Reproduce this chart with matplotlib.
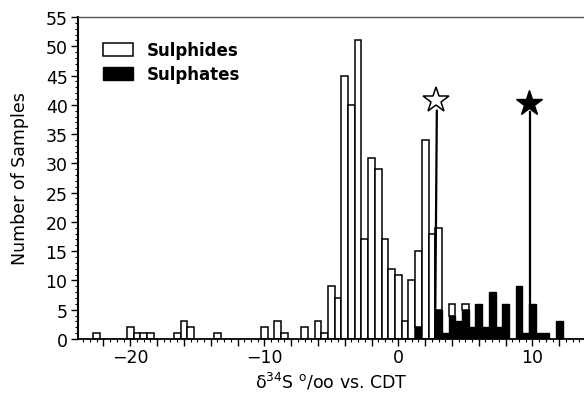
import matplotlib
matplotlib.use("Agg")
import matplotlib.pyplot as plt
from matplotlib.patches import Patch
from matplotlib.ticker import MultipleLocator, FuncFormatter

# ---- data (bin centres in per mil, bin width 0.5) ----
sulphide_bins = [-22.5, -20, -19.5, -19, -18.5, -16.5, -16, -15.5, -13.5,
                 -10, -9, -8.5, -7, -6, -5.5, -5, -4.5, -4, -3.5, -3, -2.5,
                 -2, -1.5, -1, -0.5, 0, 0.5, 1, 1.5, 2, 2.5, 3, 4, 5]
sulphide_counts = [1, 2, 1, 1, 1, 1, 3, 2, 1,
                   2, 3, 1, 2, 3, 1, 9, 7, 45, 40, 51, 17,
                   31, 29, 17, 12, 11, 3, 10, 13, 34, 18, 14, 2, 1]

sulphate_bins = [1.5, 3, 3.5, 4, 4.5, 5, 5.5, 6, 6.5, 7, 7.5, 8, 9, 9.5,
                 10, 10.5, 11, 12]
sulphate_counts = [2, 5, 1, 4, 3, 5, 2, 6, 2, 8, 2, 6, 9, 1, 6, 1, 1, 3]

bin_width = 0.5

# mean markers (open star = sulphides, filled star = sulphates)
sulphide_star = (2.8, 40.8)
sulphide_line_x = (2.87, 2.74)
sulphate_star = (9.78, 40.3)
sulphate_line_x = (9.85, 9.85)

# ---- figure ----
plt.rcParams['font.family'] = ['DejaVu Sans']
fig = plt.figure(figsize=(5.84, 4.02), dpi=100)
ax = fig.add_axes([78 / 584, 62 / 402, 506 / 584, 322 / 402])

sul_lookup = dict(zip(sulphate_bins, sulphate_counts))
bottoms = [sul_lookup.get(b, 0) for b in sulphide_bins]

ax.bar(sulphate_bins, sulphate_counts, width=bin_width, color='black',
       edgecolor='black', linewidth=1.0, zorder=2)
ax.bar(sulphide_bins, sulphide_counts, width=bin_width, bottom=bottoms,
       color='white', edgecolor='black', linewidth=1.1, zorder=2)

# star markers with their stems
ax.plot([sulphide_line_x[0], sulphide_line_x[1]], [sulphide_star[1] - 1.8, 0],
        color='black', linewidth=1.6, zorder=3)
ax.plot(sulphide_star[0], sulphide_star[1], marker='*', markersize=19,
        markerfacecolor='white', markeredgecolor='black',
        markeredgewidth=1.1, zorder=4)
ax.plot([sulphate_line_x[0], sulphate_line_x[1]], [sulphate_star[1] - 1.5, 0],
        color='black', linewidth=1.6, zorder=3)
ax.plot(sulphate_star[0], sulphate_star[1], marker='*', markersize=19,
        color='black', zorder=4)

ax.set_xlim(-23.9, 13.85)
ax.set_ylim(0, 55)

ax.spines['right'].set_visible(False)
ax.spines['left'].set_linewidth(1.5)
ax.spines['bottom'].set_linewidth(1.3)
ax.spines['top'].set_linewidth(1.0)
ax.spines['top'].set_color('#555555')

ax.xaxis.set_major_locator(MultipleLocator(2))
ax.xaxis.set_minor_locator(MultipleLocator(0.5))
ax.xaxis.set_major_formatter(FuncFormatter(
    lambda v, p: ('\u2212%d' % abs(round(v)) if v < 0 else '%d' % round(v))
    if abs(v) % 10 < 1e-6 else ''))
ax.yaxis.set_major_locator(MultipleLocator(5))
ax.yaxis.set_minor_locator(MultipleLocator(1))

ax.tick_params(axis='x', which='major', direction='out', length=5, width=1.0,
               labelsize=12.5, pad=1.5, top=False)
ax.tick_params(axis='x', which='minor', direction='out', length=2.5, width=0.8,
               top=False)
ax.tick_params(axis='y', which='major', direction='out', length=5, width=1.0,
               labelsize=12.5, pad=2.5, right=False)
ax.tick_params(axis='y', which='minor', direction='out', length=2.5, width=0.8,
               right=False)

ax.set_ylabel('Number of Samples', fontsize=12.5, labelpad=12)
ax.set_xlabel('\u03b4$^{34}$S $^{\\mathrm{o}}$/oo vs. CDT', fontsize=12.5,
              labelpad=3)

handles = [Patch(facecolor='white', edgecolor='black', linewidth=1.1),
           Patch(facecolor='black', edgecolor='black')]
ax.legend(handles, ['Sulphides', 'Sulphates'], loc='upper left',
          bbox_to_anchor=(0.05, 0.925), frameon=False,
          prop={'size': 12, 'weight': 'bold'}, handlelength=1.8,
          handleheight=0.8, handletextpad=0.8, labelspacing=0.35,
          borderpad=0, borderaxespad=0)

fig.savefig('out.png', dpi=100)
